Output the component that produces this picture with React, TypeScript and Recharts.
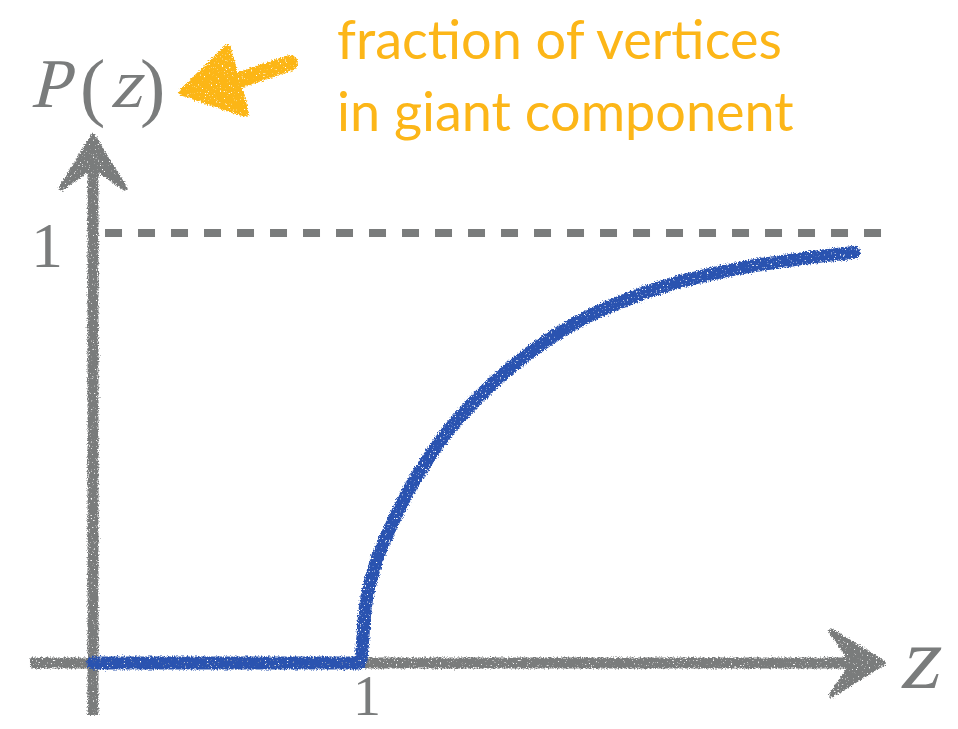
import { LineChart, Line, XAxis, YAxis, ReferenceLine } from 'recharts';

// mean degree z
const zValues = [
  0, 0.5, 1.0, 1.02, 1.04, 1.06, 1.1, 1.14, 1.19, 1.25, 1.33, 1.4, 1.48, 1.57, 1.7, 1.82, 1.95, 2.07, 2.2, 2.32,
  2.45, 2.57, 2.7, 2.85,
];
// fraction of vertices in giant component
const pValues = [
  0, 0, 0, 0.13, 0.19, 0.235, 0.295, 0.35, 0.41, 0.47, 0.54, 0.59, 0.64, 0.69, 0.75, 0.795, 0.833, 0.862, 0.887,
  0.905, 0.921, 0.933, 0.944, 0.955,
];
const xTicks = [1];
const yTicks = [1];

const data = zValues.map((z, i) => ({ z, p: pValues[i] }));

const GRAY = '#7a7c7c';
const BLUE = '#2a52b0';
const ORANGE = '#fcb618';
const SERIF = "'Liberation Serif', 'Times New Roman', serif";

const arrowShape = (props: any) => {
  const { x1, y1, x2, y2 } = props;
  const dx = x2 - x1;
  const dy = y2 - y1;
  const len = Math.sqrt(dx * dx + dy * dy) || 1;
  const ux = dx / len;
  const uy = dy / len;
  const nx = -uy;
  const ny = ux;
  const headLen = 52;
  const half = 32;
  const notch = 30;
  const w1 = [x2 - ux * headLen + nx * half, y2 - uy * headLen + ny * half];
  const w2 = [x2 - ux * headLen - nx * half, y2 - uy * headLen - ny * half];
  const nt = [x2 - ux * notch, y2 - uy * notch];
  return (
    <g filter="url(#rough)">
      <line x1={x1} y1={y1} x2={nt[0]} y2={nt[1]} stroke={GRAY} strokeWidth={11} />
      <polygon
        points={`${x2},${y2} ${w1[0]},${w1[1]} ${nt[0]},${nt[1]} ${w2[0]},${w2[1]}`}
        fill={GRAY}
        stroke={GRAY}
        strokeWidth={5}
        strokeLinejoin="round"
      />
    </g>
  );
};

const dashShape = (props: any) => {
  const { x1, y1, x2, y2 } = props;
  return <line x1={x1} y1={y1} x2={x2} y2={y2} stroke={GRAY} strokeWidth={8} strokeDasharray="17 16" />;
};

const XTick = (props: any) => (
  <text x={props.x + 7} y={715} textAnchor="middle" style={{ fontFamily: SERIF }} fontSize={56} fill={GRAY}>
    {props.payload.value}
  </text>
);

const YTick = (props: any) => (
  <text x={props.x - 38} y={props.y + 34} textAnchor="middle" style={{ fontFamily: SERIF }} fontSize={64} fill={GRAY}>
    {props.payload.value}
  </text>
);

// slanted serif glyph (math italic look)
const MathGlyph = ({ x, y, size, ch, skew = -14 }: { x: number; y: number; size: number; ch: string; skew?: number }) => (
  <g transform={`translate(${x},${y}) skewX(${skew})`}>
    <text x={0} y={0} style={{ fontFamily: SERIF }} fontSize={size} fill={GRAY}>
      {ch}
    </text>
  </g>
);

export default function App() {
  return (
    <div style={{ position: 'absolute', left: 0, top: 0, width: 958, height: 729, background: '#fff' }}>
      <svg width={0} height={0} style={{ position: 'absolute' }}>
        <defs>
          <filter id="rough" filterUnits="userSpaceOnUse" x={0} y={0} width={958} height={729}>
            <feTurbulence type="fractalNoise" baseFrequency="0.7" numOctaves={3} seed={4} result="noise" />
            <feDisplacementMap in="SourceGraphic" in2="noise" scale={5} xChannelSelector="R" yChannelSelector="G" result="disp" />
            <feTurbulence type="fractalNoise" baseFrequency="0.55" numOctaves={2} seed={9} result="spk" />
            <feColorMatrix in="spk" type="matrix" values="0 0 0 0 0  0 0 0 0 0  0 0 0 0 0  0 0 0 -7 5.6" result="mask" />
            <feComposite in="disp" in2="mask" operator="in" />
          </filter>
        </defs>
      </svg>
      <style>{`.rough-line path { filter: url(#rough); }`}</style>
      <LineChart width={958} height={729} data={data} margin={{ top: 233, right: 64, bottom: 6, left: 33 }}>
        <XAxis
          dataKey="z"
          type="number"
          domain={[0, 3]}
          ticks={xTicks}
          axisLine={false}
          tickLine={false}
          height={60}
          tick={XTick}
        />
        <YAxis
          type="number"
          domain={[0, 1]}
          ticks={yTicks}
          axisLine={false}
          tickLine={false}
          width={60}
          tick={YTick}
        />
        <ReferenceLine segment={[{ x: 0.045, y: 1 }, { x: 2.985, y: 1 }]} ifOverflow="visible" shape={dashShape} />
        <ReferenceLine segment={[{ x: -0.236, y: 0 }, { x: 2.96, y: 0 }]} ifOverflow="visible" shape={arrowShape} />
        <ReferenceLine segment={[{ x: 0, y: -0.121 }, { x: 0, y: 1.225 }]} ifOverflow="visible" shape={arrowShape} />
        <Line
          className="rough-line"
          type="monotone"
          dataKey="p"
          stroke={BLUE}
          strokeWidth={13}
          strokeLinecap="round"
          strokeLinejoin="round"
          dot={false}
          activeDot={false}
          isAnimationActive={false}
        />
        <g>
          <MathGlyph x={30} y={107} size={70} ch="P" />
          <text x={80} y={112} style={{ fontFamily: SERIF }} fontSize={76} fill={GRAY}>
            (
          </text>
          <MathGlyph x={110} y={107} size={70} ch="z" />
          <text x={140} y={112} style={{ fontFamily: SERIF }} fontSize={76} fill={GRAY}>
            )
          </text>
          <MathGlyph x={899} y={688} size={88} ch="z" skew={-12} />
          <g filter="url(#rough)">
            <line x1={222} y1={86} x2={290} y2={63} stroke={ORANGE} strokeWidth={16} strokeLinecap="round" />
            <polygon points="183,92 227,49 245,113" fill={ORANGE} stroke={ORANGE} strokeWidth={8} strokeLinejoin="round" />
          </g>
          <text style={{ fontFamily: 'Lato' }} fontSize={54} fill={ORANGE}>
            <tspan x={337} y={59}>fraction of vertices</tspan>
            <tspan x={337} y={131}>in giant component</tspan>
          </text>
        </g>
      </LineChart>
    </div>
  );
}
